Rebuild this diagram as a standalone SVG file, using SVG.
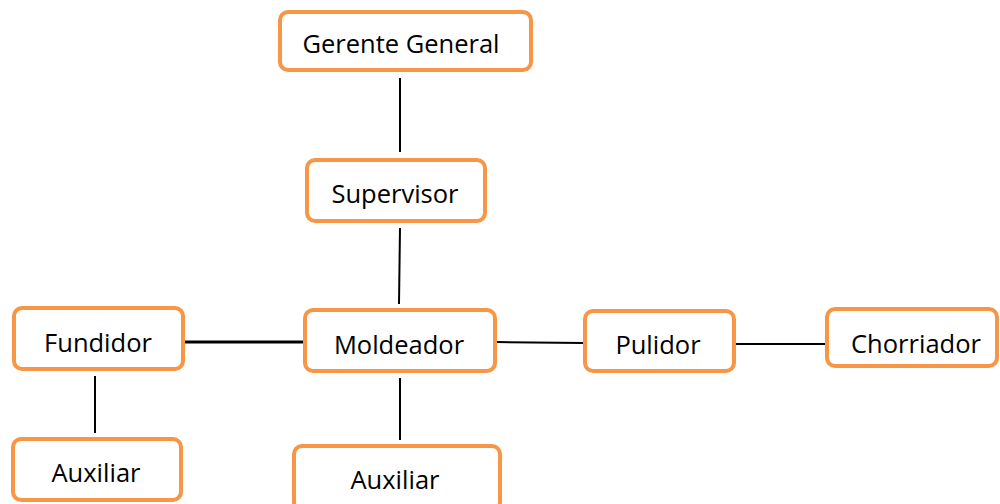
<svg xmlns="http://www.w3.org/2000/svg" width="1000" height="504" viewBox="0 0 1000 504">
<style>
.box{fill:#fff;stroke:#F79646;stroke-width:4}
.lbl{font-family:"Open Sans","Noto Sans",sans-serif;font-size:25.5px;fill:#000;text-anchor:middle}
.ln{stroke:#000;stroke-width:2;fill:none}
</style>
<rect width="1000" height="504" fill="#fff"/>
<g id="connectors">
<line class="ln" x1="400" y1="78" x2="400" y2="152"/>
<line class="ln" x1="400" y1="228" x2="399" y2="304"/>
<line class="ln" x1="185" y1="342" x2="303" y2="342" style="stroke-width:3"/>
<line class="ln" x1="497" y1="342" x2="583" y2="343"/>
<line class="ln" x1="736" y1="344" x2="825" y2="344"/>
<line class="ln" x1="95" y1="376" x2="95" y2="433"/>
<line class="ln" x1="400" y1="378" x2="400" y2="440"/>
</g>
<g id="gerente"><rect class="box" x="280" y="12" width="251" height="58" rx="8"/><text class="lbl" x="401" y="53">Gerente General</text></g>
<g id="supervisor"><rect class="box" x="307" y="160" width="178" height="61" rx="8"/><text class="lbl" x="395" y="203">Supervisor</text></g>
<g id="fundidor"><rect class="box" x="14" y="308" width="169" height="61" rx="8"/><text class="lbl" x="98" y="352">Fundidor</text></g>
<g id="moldeador"><rect class="box" x="305" y="310" width="190" height="61" rx="8"/><text class="lbl" x="399" y="354">Moldeador</text></g>
<g id="pulidor"><rect class="box" x="585" y="311" width="149" height="60" rx="8"/><text class="lbl" x="658" y="354">Pulidor</text></g>
<g id="chorriador"><rect class="box" x="827" y="309" width="170" height="57" rx="8"/><text class="lbl" x="916" y="353">Chorriador</text></g>
<g id="auxiliar1"><rect class="box" x="13" y="439" width="168" height="61" rx="8"/><text class="lbl" x="96" y="482">Auxiliar</text></g>
<g id="auxiliar2"><rect class="box" x="294" y="446" width="206" height="64" rx="8"/><text class="lbl" x="395" y="489">Auxiliar</text></g>
</svg>
